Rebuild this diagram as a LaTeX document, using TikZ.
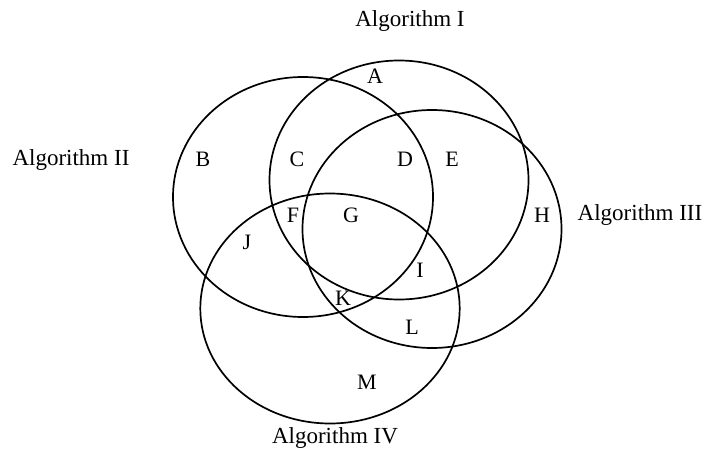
\documentclass[tikz,border=0pt]{standalone}
\usepackage{fontspec}
\setmainfont{Liberation Serif}
\begin{document}
\begin{tikzpicture}[x=1pt,y=-1pt,
  setline/.style={line width=1.7pt,black},
  reglabel/.style={font=\fontsize{22}{25}\selectfont,inner sep=0pt},
  algtitle/.style={font=\fontsize{23}{26}\selectfont,inner sep=0pt}]
\useasboundingbox (0,0) rectangle (705,450);
% sets
\draw[setline] (399,180) ellipse [x radius=129.5pt, y radius=119.5pt];
\draw[setline] (303,197) ellipse [x radius=130pt, y radius=120pt];
\draw[setline] (432,229) ellipse [x radius=129.5pt, y radius=119pt];
\draw[setline] (330,308.5) ellipse [x radius=129.7pt, y radius=115pt];
% titles
\node[algtitle] (t1) at (410,21) {Algorithm I};
\node[algtitle] (t2) at (71,160) {Algorithm II};
\node[algtitle] (t3) at (640,215) {Algorithm III};
\node[algtitle] (t4) at (335,438) {Algorithm IV};
% region labels
\node[reglabel] (A) at (375,76) {A};
\node[reglabel] (B) at (203,159) {B};
\node[reglabel] (C) at (297,159) {C};
\node[reglabel] (D) at (405,159) {D};
\node[reglabel] (E) at (452,159) {E};
\node[reglabel] (F) at (293,215) {F};
\node[reglabel] (G) at (351,215) {G};
\node[reglabel] (H) at (542,215) {H};
\node[reglabel] (I) at (420,270) {I};
\node[reglabel] (J) at (247,242) {J};
\node[reglabel] (K) at (343,298) {K};
\node[reglabel] (L) at (412,327) {L};
\node[reglabel] (M) at (367,382) {M};
\end{tikzpicture}
\end{document}
